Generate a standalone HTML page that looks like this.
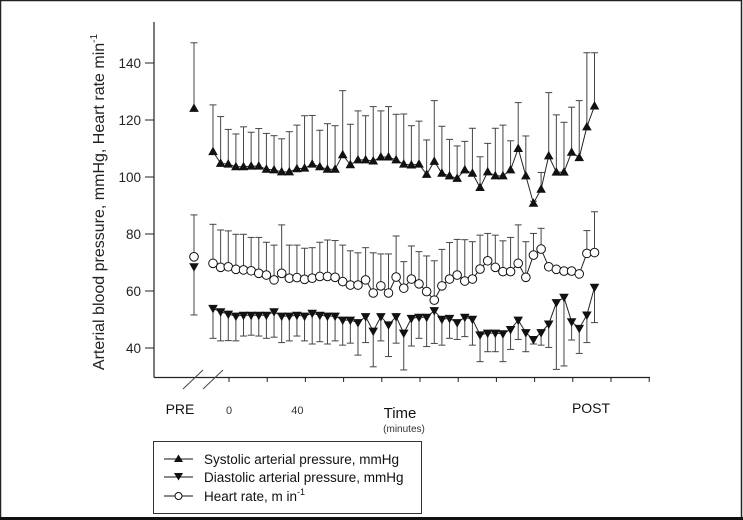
<!DOCTYPE html>
<html><head><meta charset="utf-8"><style>
html,body{margin:0;padding:0;background:#fff;}
svg{display:block;font-family:"Liberation Sans",Arial,sans-serif;}
</style></head><body>
<svg id="chart" width="743" height="520" viewBox="0 0 743 520">
<rect x="0.5" y="0.5" width="741" height="518" fill="#fff" stroke="#222" stroke-width="1.5"/>
<line x1="0" y1="518.5" x2="743" y2="518.5" stroke="#111" stroke-width="3"/>
<g id="axes"></g>
<g id="series"></g>
<text x="0" y="0" transform="translate(104,202) rotate(-90)" text-anchor="middle" font-size="16" fill="#222">Arterial blood pressure, mmHg, Heart rate min<tspan dy="-7" font-size="10">-1</tspan></text>
<text x="180" y="414" text-anchor="middle" font-size="14" fill="#111">PRE</text>
<text x="591" y="413" text-anchor="middle" font-size="14" fill="#111">POST</text>
<text x="400" y="418" text-anchor="middle" font-size="15" fill="#111">Time</text>
<text x="404" y="432" text-anchor="middle" font-size="10" fill="#333">(minutes)</text>
<g>
<rect x="153.5" y="441.5" width="268" height="72" fill="#fff" stroke="#333" stroke-width="1"/>
<g>
<line x1="164" y1="459" x2="193" y2="459" stroke="#111"/>
<polygon points="178.5,454.5 183,462 174,462" fill="#111"/>
<text x="204" y="464" font-size="13.5" fill="#111">Systolic arterial pressure, mmHg</text></g>
<g>
<line x1="164" y1="477" x2="193" y2="477" stroke="#111"/>
<polygon points="174,473 183,473 178.5,480.5" fill="#111"/>
<text x="204" y="482" font-size="13.5" fill="#111">Diastolic arterial pressure, mmHg</text></g>
<g>
<line x1="164" y1="496" x2="193" y2="496" stroke="#111"/>
<circle cx="178.5" cy="496" r="3.5" fill="#fff" stroke="#111"/>
<text x="204" y="501" font-size="13.5" fill="#111">Heart rate, m in<tspan dy="-6" font-size="9">-1</tspan></text></g>
</g>
</svg>
<script>
var yTicks = [40, 60, 80, 100, 120, 140];
var xTickLabels = ["0", "40"];
var preSys = 124.1, preSysTop = 147.1;
var preHr = 72, preHrTop = 86.7;
var preDia = 68.5, preDiaBottom = 51.6;
var systolic = [108.9,104.8,104.5,103.6,103.6,103.8,103.8,102.7,102.5,101.8,101.8,102.9,103.1,104.5,103.6,102.7,102.7,107.8,104.3,106,106,105.6,107,107,106,
104.5,104.2,104.5,100.9,105.5,101.3,100.4,99.5,102.5,101.3,96.3,101.8,100.4,100.4,102.5,110,100.4,90.8,95.7,107.4,101.7,101.7,108.7,106.8,117.6,124.9];
var systolicTop = [125.3,121.2,116.7,115.1,117.6,115.7,117,115.3,114.5,113.4,115.9,118.2,121.5,121.6,116.4,118.7,118,130.3,118.5,123.2,121.5,124.7,123.2,124.7,122,
122.1,118,119.6,113,126.8,117.8,113.2,110.9,112.5,117.1,107.1,111.8,117.1,118.2,112.7,126.1,114.4,91.5,101.6,129.6,121.8,119.2,124.5,126.8,143.6,143.6];
var heartRate = [69.7,68.3,68.5,67.6,67.4,67.1,66.2,65.6,63.9,66.2,64.5,64.7,64.1,64.5,65.1,65.1,64.8,63.3,62.1,62.1,63.9,59.3,61.8,59.3,64.9,
61,64.2,62.5,59.8,56.8,61.8,64.2,65.6,63.5,64.2,67.7,70.6,68.3,66.8,66.8,69.7,64.8,72.6,74.7,68.5,67.6,67,67,66,73.2,73.5];
var heartRateTop = [83.4,81.4,81.1,79.9,79.9,78.8,78.8,77.1,76.1,83.2,76.1,76.1,75,75.2,77.1,77.9,77.7,76.1,74.1,73.4,75.2,73.4,73,73,79.3,
70.3,75.8,73.8,72.3,70.6,74.6,77,78.1,78,77.3,79.6,80.2,79.6,77.6,78.8,83.2,77.3,80.2,82,null,null,null,null,null,81.2,87.8];
var diastolic = [53.9,52.7,51.9,51.2,51.5,51.5,51.5,51.5,52.7,51.2,51.2,51.5,51.2,52.2,51.5,51.2,51.2,49.8,49.8,48.9,51,45.9,51,48.1,51,
45.2,50.4,50.8,50.8,53.1,50.1,50.4,48.9,50.8,50.1,44.6,45.2,45.2,45,46.5,49.8,45.4,43,45.4,48.4,55.9,57.8,49.2,46.9,51.6,61.3];
var diastolicBottom = [43.4,42.5,42.6,42.5,44.2,44.5,44.2,43.4,43.8,41.9,42.5,44.2,42.5,41.4,42.2,41.4,42.5,41,41.7,37.5,41.9,33.4,42.5,37,41.7,
32.3,40.7,43.4,40.5,41.6,41,43.4,43,44,41,35.2,38.7,38.7,35.2,39.5,43,38.7,41.4,41,40.2,32.5,33.7,42.8,38.1,41.9,48.9];

var NS = "http://www.w3.org/2000/svg";
function yS(v){ return 177 - (v - 100) * 2.85; }
function xS(i){ return 213 + i * 7.63; }
var PREX = 194;
function mk(tag, attrs, parent){
  var e = document.createElementNS(NS, tag);
  for (var k in attrs) e.setAttribute(k, attrs[k]);
  parent.appendChild(e);
  return e;
}
var ax = document.getElementById('axes');
var se = document.getElementById('series');
var l;
l = mk('line', {x1:154, y1:22, x2:154, y2:377.5, stroke:'#222', 'stroke-width':1.2}, ax);


l = mk('line', {x1:154, y1:377.5, x2:650, y2:377.5, stroke:'#222', 'stroke-width':1.2}, ax);


yTicks.forEach(function(t){
  var tk = mk('line', {x1:145, x2:154, y1:yS(t), y2:yS(t), stroke:'#222'}, ax);
  
  
  var tx = mk('text', {x:141, y:yS(t)+5, 'text-anchor':'end', 'font-size':13.5, fill:'#222'}, ax);
  tx.textContent = t;
  
  
});
for (var k = 0; k < 12; k++) {
  var xx = 229 + k * 38.2;
  var tk2 = mk('line', {x1:xx, x2:xx, y1:377, y2:382, stroke:'#222'}, ax);
  
  
}
xTickLabels.forEach(function(s, k){
  var tx = mk('text', {x:229 + k*76.4 - (k?8:0), y:414, 'text-anchor':'middle', 'font-size':11, fill:'#333'}, ax);
  tx.textContent = s;
  
  
});
[[183,389,203,370],[203,389,223,370]].forEach(function(p){
  var b = mk('line', {x1:p[0], y1:p[1], x2:p[2], y2:p[3], stroke:'#444'}, ax);
  
  
});

function errBar(x, v, end, name){
  if (end === null || end === undefined) return;
  var g = mk('g', {}, se);
  
  
  mk('line', {x1:x, x2:x, y1:yS(v), y2:yS(end), stroke:'#444', 'stroke-width':1}, g);
  mk('line', {x1:x-3.5, x2:x+3.5, y1:yS(end), y2:yS(end), stroke:'#444', 'stroke-width':1}, g);
}
function up(x, y, name){
  var p = mk('polygon', {points:(x)+','+(y-5)+' '+(x+4.8)+','+(y+3.5)+' '+(x-4.8)+','+(y+3.5), fill:'#111'}, se);
  
  
}
function down(x, y, name){
  var p = mk('polygon', {points:(x-4.8)+','+(y-3.5)+' '+(x+4.8)+','+(y-3.5)+' '+(x)+','+(y+5), fill:'#111'}, se);
  
  
}
function circ(x, y, name){
  var c = mk('circle', {cx:x, cy:y, r:4.3, fill:'#fff', stroke:'#111', 'stroke-width':1}, se);
  
  
}
function path(vals, name){
  var d = vals.map(function(v,i){ return (i?'L':'M') + xS(i) + ',' + yS(v); }).join(' ');
  var p = mk('path', {d:d, fill:'none', stroke:'#222', 'stroke-width':1}, se);
  
  
}
// error bars
systolic.forEach(function(v,i){ errBar(xS(i), v, systolicTop[i], 'systolic-error-bar'); });
heartRate.forEach(function(v,i){ errBar(xS(i), v, heartRateTop[i], 'heart-rate-error-bar'); });
diastolic.forEach(function(v,i){ errBar(xS(i), v, diastolicBottom[i], 'diastolic-error-bar'); });
errBar(PREX, preSys, preSysTop, 'pre-systolic-error-bar');
errBar(PREX, preHr, preHrTop, 'pre-heart-rate-error-bar');
errBar(PREX, preDia, preDiaBottom, 'pre-diastolic-error-bar');
// lines
path(systolic, 'systolic-line');
path(heartRate, 'heart-rate-line');
path(diastolic, 'diastolic-line');
// markers
systolic.forEach(function(v,i){ up(xS(i), yS(v), 'systolic-point'); });
diastolic.forEach(function(v,i){ down(xS(i), yS(v), 'diastolic-point'); });
heartRate.forEach(function(v,i){ circ(xS(i), yS(v), 'heart-rate-point'); });
up(PREX, yS(preSys), 'pre-systolic-point');
down(PREX, yS(preDia), 'pre-diastolic-point');
circ(PREX, yS(preHr), 'pre-heart-rate-point');
</script>
</body></html>
